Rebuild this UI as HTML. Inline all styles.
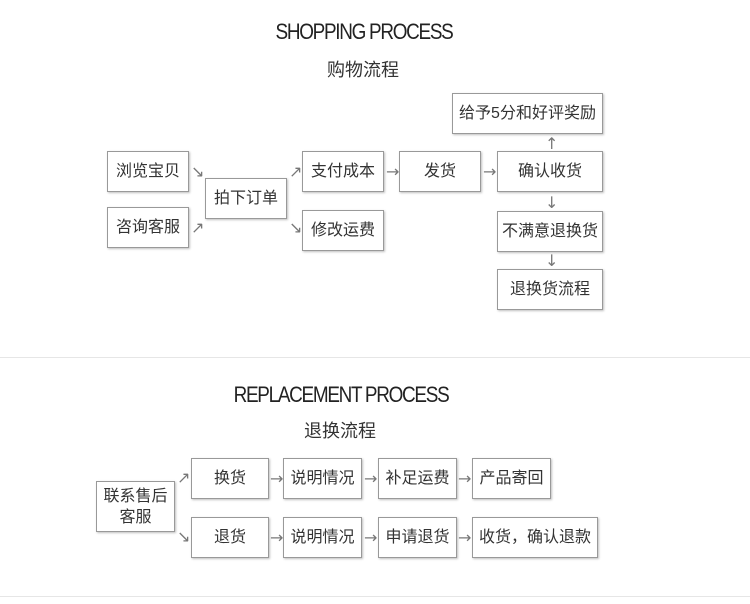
<!DOCTYPE html><html><head><meta charset="utf-8"><style>
body{margin:0;width:750px;height:604px;background:#fff;position:relative;overflow:hidden;font-family:"Liberation Sans","Noto Sans CJK SC",sans-serif;color:#333}
.b{position:absolute;border:1px solid #999;box-shadow:1px 1px 2px rgba(0,0,0,.25);background:#fff;display:flex;align-items:center;justify-content:center;text-align:center;font-size:16px;line-height:22px;box-sizing:border-box}
.a{position:absolute;font-size:16px;color:#777;line-height:16px;font-family:"DejaVu Sans",sans-serif}
.t{position:absolute;width:300px;text-align:center;font-size:22px;letter-spacing:-1.5px;color:#222;transform:scaleX(.86)}
.c{position:absolute;width:200px;text-align:center;font-size:18px;color:#333}
.l{position:absolute;left:0;width:750px;height:1px;background:#e6e6e6}
</style></head><body>
<div class="t" style="top:19px;left:214px">SHOPPING PROCESS</div>
<div class="c" style="top:56px;left:263px">购物流程</div>
<div class="b" style="left:107px;top:151px;width:82px;height:41px">浏览宝贝</div>
<div class="b" style="left:107px;top:207px;width:82px;height:41px">咨询客服</div>
<div class="b" style="left:205px;top:178px;width:82px;height:41px">拍下订单</div>
<div class="b" style="left:302px;top:151px;width:82px;height:41px">支付成本</div>
<div class="b" style="left:302px;top:210px;width:82px;height:41px">修改运费</div>
<div class="b" style="left:399px;top:151px;width:82px;height:41px">发货</div>
<div class="b" style="left:497px;top:151px;width:106px;height:41px">确认收货</div>
<div class="b" style="left:452px;top:93px;width:151px;height:41px">给予5分和好评奖励</div>
<div class="b" style="left:497px;top:211px;width:106px;height:41px">不满意退换货</div>
<div class="b" style="left:497px;top:269px;width:106px;height:41px">退换货流程</div>
<div class="a" style="left:191px;top:164px">↘</div>
<div class="a" style="left:191px;top:220px">↗</div>
<div class="a" style="left:289px;top:164px">↗</div>
<div class="a" style="left:289px;top:220px">↘</div>
<div class="a" style="left:386px;top:164px">→</div>
<div class="a" style="left:483px;top:164px">→</div>
<div class="a" style="left:545px;top:136px">↑</div>
<div class="a" style="left:545px;top:195px">↓</div>
<div class="a" style="left:545px;top:253px">↓</div>
<div class="l" style="top:357px"></div>
<div class="t" style="top:382px;left:191px">REPLACEMENT PROCESS</div>
<div class="c" style="top:417px;left:240px">退换流程</div>
<div class="b" style="left:96px;top:481px;width:79px;height:51px;line-height:21px">联系售后<br>客服</div>
<div class="b" style="left:191px;top:458px;width:78px;height:41px">换货</div>
<div class="b" style="left:283px;top:458px;width:79px;height:41px">说明情况</div>
<div class="b" style="left:378px;top:458px;width:79px;height:41px">补足运费</div>
<div class="b" style="left:472px;top:458px;width:79px;height:41px">产品寄回</div>
<div class="b" style="left:191px;top:517px;width:78px;height:41px">退货</div>
<div class="b" style="left:283px;top:517px;width:79px;height:41px">说明情况</div>
<div class="b" style="left:378px;top:517px;width:79px;height:41px">申请退货</div>
<div class="b" style="left:472px;top:517px;width:126px;height:41px">收货，确认退款</div>
<div class="a" style="left:177px;top:470px">↗</div>
<div class="a" style="left:177px;top:529px">↘</div>
<div class="a" style="left:270px;top:471px">→</div>
<div class="a" style="left:364px;top:471px">→</div>
<div class="a" style="left:458px;top:471px">→</div>
<div class="a" style="left:270px;top:530px">→</div>
<div class="a" style="left:364px;top:530px">→</div>
<div class="a" style="left:458px;top:530px">→</div>
<div class="l" style="top:596px"></div>
</body></html>
